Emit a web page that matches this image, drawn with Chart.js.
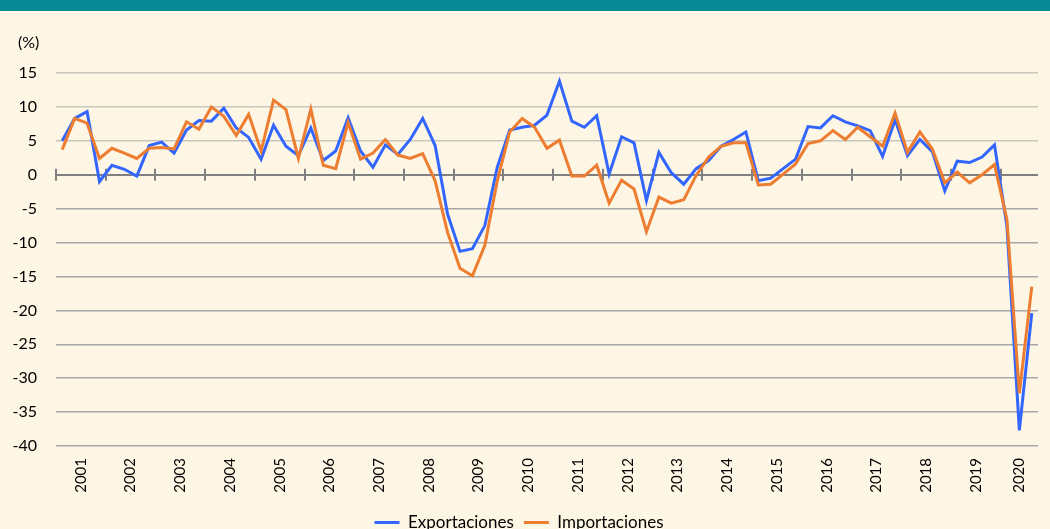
<!DOCTYPE html>
<html lang="es">
<head>
<meta charset="utf-8">
<title>Exportaciones e importaciones</title>
<script src="https://cdn.jsdelivr.net/npm/chart.js@4.4.1/dist/chart.umd.min.js"></script>
<style>
    html, body { margin: 0; padding: 0; overflow: hidden; }
    body { width: 1050px; height: 529px; background: #fef6e4; position: relative; }
    .band { position: absolute; left: 0; top: 0; width: 1050px; height: 11px; background: #088a96; }
    .wrap { position: absolute; left: 0; top: 11px; width: 1050px; height: 540px; }
</style>
</head>
<body>
<div class="band"></div>
<div class="wrap"><canvas id="tradeChart"></canvas></div>
<script>
// Variación interanual trimestral (%), 2001T1 - 2020T3

const years = ['2001', '2002', '2003', '2004', '2005', '2006', '2007', '2008', '2009', '2010',
    '2011', '2012', '2013', '2014', '2015', '2016', '2017', '2018', '2019', '2020'];

const quartersPerYear = [4, 4, 4, 4, 4, 4, 4, 4, 4, 4, 4, 4, 4, 4, 4, 4, 4, 4, 4, 3];

const exportaciones = [
    5.0, 8.3, 9.3, -1.0, 1.4, 0.8, -0.2, 4.3,
    4.8, 3.2, 6.6, 8.0, 7.9, 9.8, 6.9, 5.5,
    2.3, 7.3, 4.2, 2.8, 6.9, 2.1, 3.5, 8.4,
    3.5, 1.1, 4.4, 3.0, 5.2, 8.3, 4.3, -5.8,
    -11.3, -10.9, -7.5, 1.1, 6.6, 7.0, 7.3, 8.8,
    13.8, 7.9, 7.0, 8.7, 0.1, 5.6, 4.7, -3.8,
    3.3, 0.3, -1.4, 0.9, 2.1, 4.2, 5.2, 6.3,
    -0.9, -0.5, 0.9, 2.3, 7.1, 6.9, 8.7, 7.8,
    7.2, 6.5, 2.7, 8.1, 2.8, 5.2, 3.4, -2.4,
    2.0, 1.8, 2.6, 4.4, -7.6, -37.7, -20.4
];

const importaciones = [
    3.7, 8.3, 7.6, 2.4, 3.9, 3.2, 2.4, 3.9,
    4.0, 3.8, 7.8, 6.7, 10.0, 8.6, 5.8, 8.9,
    3.5, 11.0, 9.6, 2.4, 9.7, 1.4, 0.9, 7.7,
    2.3, 3.2, 5.2, 2.9, 2.4, 3.1, -0.9, -8.5,
    -13.8, -14.9, -10.4, -0.9, 6.3, 8.3, 7.0, 3.9,
    5.1, -0.2, -0.2, 1.4, -4.2, -0.8, -2.1, -8.4,
    -3.3, -4.2, -3.7, -0.1, 2.6, 4.2, 4.7, 4.7,
    -1.5, -1.4, 0.1, 1.6, 4.6, 5.0, 6.5, 5.2,
    7.0, 5.6, 4.2, 9.1, 3.3, 6.3, 3.8, -1.2,
    0.4, -1.2, 0.0, 1.5, -6.6, -32.2, -16.5
];

const yTicks = { min: -40, max: 15, step: 5 };
const unitLabel = '(%)';

// Year boundaries and year label centres on the quarterly x scale
const yearStarts = [];
const yearCenters = [];
let acc = 0;
quartersPerYear.forEach(n => {
    yearStarts.push(acc);
    yearCenters.push(acc + n / 2);
    acc += n;
});
const totalQuarters = acc;

function toPoints(values) {
    return values.map((v, i) => ({ x: i + 0.5, y: v }));
}

// Tick marks across the zero line at each year boundary
const yearTickMarks = {
    id: 'yearTickMarks',
    beforeDatasetsDraw(chart) {
        const { ctx, scales: { x, y } } = chart;
        const y0 = y.getPixelForValue(0);
        ctx.save();
        ctx.strokeStyle = '#808080';
        ctx.lineWidth = 2;
        yearStarts.forEach(q => {
            const px = Math.round(x.getPixelForValue(q));
            ctx.beginPath();
            ctx.moveTo(px, y0 - 6);
            ctx.lineTo(px, y0 + 6);
            ctx.stroke();
        });
        ctx.restore();
    }
};

// "(%)" above the value axis
const unitText = {
    id: 'unitText',
    afterDraw(chart) {
        const { ctx, chartArea } = chart;
        ctx.save();
        ctx.fillStyle = '#000';
        ctx.font = '16px Lato';
        ctx.textAlign = 'left';
        ctx.textBaseline = 'middle';
        ctx.fillText(unitLabel, 18, chartArea.top - 30);
        ctx.restore();
    }
};

const ctx = document.getElementById('tradeChart').getContext('2d');
new Chart(ctx, {
    type: 'line',
    data: {
        datasets: [{
            label: 'Exportaciones',
            data: toPoints(exportaciones),
            borderColor: '#3366ff',
            backgroundColor: '#3366ff',
            borderWidth: 3,
            pointRadius: 0,
            pointStyle: 'line',
            tension: 0,
            order: 1
        }, {
            label: 'Importaciones',
            data: toPoints(importaciones),
            borderColor: '#ed7d31',
            backgroundColor: '#ed7d31',
            borderWidth: 3,
            pointRadius: 0,
            pointStyle: 'line',
            tension: 0,
            order: 0
        }]
    },
    options: {
        responsive: true,
        maintainAspectRatio: false,
        animation: false,
        layout: { padding: { left: 0, right: 12, top: 62, bottom: 10 } },
        scales: {
            x: {
                type: 'linear',
                min: 0,
                max: totalQuarters,
                grid: { display: false, drawTicks: false },
                border: { display: false },
                afterBuildTicks: scale => {
                    scale.ticks = yearCenters.map(v => ({ value: v }));
                },
                afterFit: scale => { scale.height = 58; },
                ticks: {
                    autoSkip: false,
                    minRotation: 90,
                    maxRotation: 90,
                    padding: 12,
                    color: '#000',
                    font: { family: 'Lato', size: 15 },
                    callback: value => {
                        const idx = yearCenters.indexOf(value);
                        return idx >= 0 ? years[idx] : '';
                    }
                }
            },
            y: {
                min: yTicks.min,
                max: yTicks.max,
                afterFit: scale => { scale.width = 56; },
                border: { display: false },
                grid: {
                    drawTicks: false,
                    color: c => c.tick.value === 0 ? '#808080' : (c.tick.value > 0 ? '#c9c6be' : '#a6a6a6'),
                    lineWidth: c => c.tick.value === 0 ? 2 : 1.5
                },
                ticks: {
                    stepSize: yTicks.step,
                    padding: 19,
                    color: '#000',
                    font: { family: 'Lato', size: 16 }
                }
            }
        },
        plugins: {
            legend: {
                position: 'bottom',
                labels: {
                    usePointStyle: true,
                    pointStyleWidth: 25,
                    boxHeight: 16,
                    padding: 10,
                    color: '#000',
                    font: { family: 'Lato', size: 17 },
                    sort: (a, b) => a.datasetIndex - b.datasetIndex
                }
            },
            tooltip: { enabled: false }
        }
    },
    plugins: [yearTickMarks, unitText]
});
</script>
</body>
</html>
